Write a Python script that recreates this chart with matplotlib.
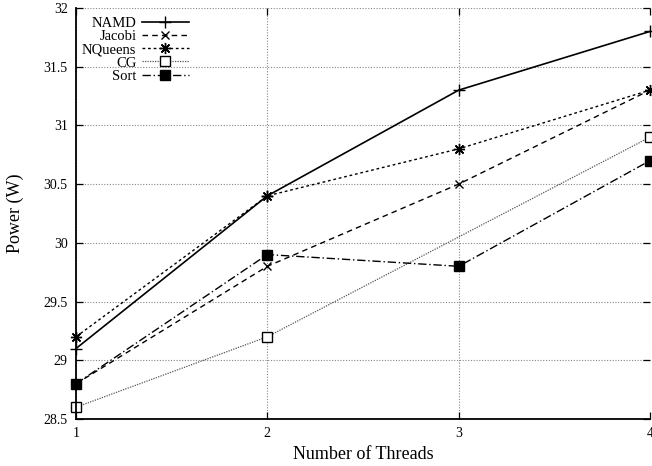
import matplotlib
matplotlib.use("Agg")
import matplotlib.pyplot as plt

# power per thread count
threads = [1, 2, 3, 4]
namd = [29.1, 30.4, 31.3, 31.8]
jacobi = [28.8, 29.8, 30.5, 31.3]
nqueens = [29.2, 30.4, 30.8, 31.3]
cg_threads = [1, 2, 4]
cg = [28.6, 29.2, 30.9]
sort = [28.8, 29.9, 29.8, 30.7]

plt.rcParams['font.family'] = ['Liberation Serif', 'DejaVu Serif']

fig = plt.figure(figsize=(6.52, 4.66), dpi=100)
ax = fig.add_axes([0.1166, 0.1009, 0.997 - 0.1166, 0.983 - 0.1009])

ax.plot(threads, namd, color='black', ls='-', lw=1.2, marker='+', ms=8, mew=1.0,
        label='NAMD', clip_on=False)
ax.plot(threads, jacobi, color='black', ls=(0, (4, 3)), lw=1.0, marker='x', ms=6, mew=1.0,
        label='Jacobi', clip_on=False)
ax.plot(threads, nqueens, color='black', ls=(0, (2, 2)), lw=1.0, marker=(8, 2, 0), ms=8, mew=1.0,
        label='NQueens', clip_on=False)
ax.plot(cg_threads, cg, color='#555555', ls=(0, (1, 1)), lw=0.9, marker='s', ms=7,
        mfc='white', mec='black', mew=1.0, label='CG', clip_on=False)
ax.plot(threads, sort, color='black', ls=(0, (6, 2, 1, 2)), lw=1.0, marker='s', ms=7,
        label='Sort', clip_on=False)

ax.set_xlim(1, 4)
ax.set_ylim(28.5, 32)
ax.set_xticks(threads)
ax.set_yticks([28.5, 29, 29.5, 30, 30.5, 31, 31.5, 32])
ax.set_yticklabels(['28.5', '29', '29.5', '30', '30.5', '31', '31.5', '32'])
ax.grid(True, color='#888888', ls=(0, (1, 1.5)), lw=0.8)
ax.set_axisbelow(True)

for s in ['top', 'right']:
    ax.spines[s].set_visible(False)
for s in ['left', 'bottom']:
    ax.spines[s].set_linewidth(1.3)
ax.tick_params(direction='in', top=True, right=True, length=5, width=0.9,
               labelsize=10, pad=6)

ax.set_xlabel('Number of Threads', fontsize=13, labelpad=4)
ax.set_ylabel('Power (W)', fontsize=13, labelpad=14)

leg = ax.legend(loc='upper left', bbox_to_anchor=(-0.005, 1.0), frameon=False,
                markerfirst=False, fontsize=10.5, handlelength=3.2, handletextpad=0.4,
                labelspacing=0.0, borderaxespad=0.2)
for col in leg._legend_box._children[1]._children:
    col.align = 'right'

fig.savefig('out.png', dpi=100)
